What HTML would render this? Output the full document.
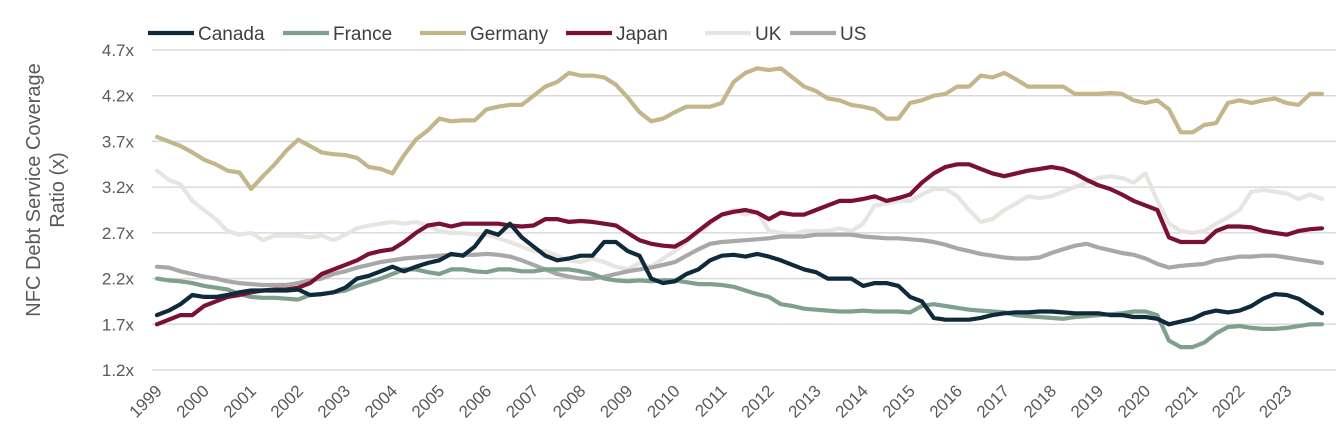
<!DOCTYPE html>
<html><head><meta charset="utf-8"><style>
html,body{margin:0;padding:0;background:#fff;width:1340px;height:447px;overflow:hidden}
svg{font-family:"Liberation Sans",sans-serif}
</style></head><body>
<svg id="chart" width="1340" height="447" viewBox="0 0 1340 447" xmlns="http://www.w3.org/2000/svg">
<g id="grid"></g>
<g id="yticks"></g>
<g id="xticks"></g>
<g id="series"></g>
<g id="legend"></g>
<text transform="translate(48,190) rotate(-90)" text-anchor="middle" font-size="20" fill="#595959"><tspan x="0" dy="-8">NFC Debt Service Coverage</tspan><tspan x="0" dy="24">Ratio (x)</tspan></text>
</svg>
<script>
const yTicks=[1.2,1.7,2.2,2.7,3.2,3.7,4.2,4.7];
const years=["1999","2000","2001","2002","2003","2004","2005","2006","2007","2008","2009","2010","2011","2012","2013","2014","2015","2016","2017","2018","2019","2020","2021","2022","2023"];
const seriesNames=["Canada","France","Germany","Japan","UK","US"];
const canada=[1.8,1.85,1.92,2.02,2.0,2.0,2.02,2.05,2.07,2.07,2.07,2.07,2.08,2.02,2.03,2.05,2.1,2.2,2.23,2.28,2.33,2.28,2.33,2.37,2.4,2.47,2.45,2.55,2.72,2.68,2.8,2.65,2.55,2.45,2.4,2.42,2.45,2.45,2.6,2.6,2.5,2.45,2.2,2.15,2.17,2.25,2.3,2.4,2.45,2.46,2.44,2.47,2.44,2.4,2.35,2.3,2.27,2.2,2.2,2.2,2.12,2.15,2.15,2.12,2.0,1.95,1.77,1.75,1.75,1.75,1.77,1.8,1.82,1.83,1.83,1.84,1.84,1.83,1.82,1.82,1.82,1.8,1.8,1.78,1.78,1.76,1.7,1.73,1.76,1.82,1.85,1.83,1.85,1.9,1.98,2.03,2.02,1.98,1.9,1.82];
const france=[2.2,2.18,2.17,2.15,2.12,2.1,2.08,2.03,2.0,1.99,1.99,1.98,1.97,2.02,2.03,2.05,2.07,2.12,2.16,2.2,2.25,2.3,2.3,2.27,2.25,2.3,2.3,2.28,2.27,2.3,2.3,2.28,2.28,2.3,2.3,2.3,2.28,2.25,2.2,2.18,2.17,2.18,2.17,2.18,2.18,2.16,2.14,2.14,2.13,2.11,2.07,2.03,2.0,1.92,1.9,1.87,1.86,1.85,1.84,1.84,1.85,1.84,1.84,1.84,1.83,1.9,1.92,1.9,1.88,1.86,1.85,1.84,1.83,1.8,1.79,1.78,1.77,1.76,1.78,1.79,1.8,1.81,1.82,1.84,1.84,1.8,1.52,1.45,1.45,1.5,1.6,1.67,1.68,1.66,1.65,1.65,1.66,1.68,1.7,1.7];
const germany=[3.75,3.7,3.65,3.58,3.5,3.45,3.38,3.36,3.18,3.32,3.45,3.6,3.72,3.65,3.58,3.56,3.55,3.52,3.42,3.4,3.35,3.55,3.72,3.82,3.95,3.92,3.93,3.93,4.05,4.08,4.1,4.1,4.2,4.3,4.35,4.45,4.42,4.42,4.4,4.32,4.18,4.02,3.92,3.95,4.02,4.08,4.08,4.08,4.12,4.35,4.45,4.5,4.48,4.5,4.4,4.3,4.25,4.17,4.15,4.1,4.08,4.05,3.95,3.95,4.12,4.15,4.2,4.22,4.3,4.3,4.42,4.4,4.45,4.38,4.3,4.3,4.3,4.3,4.22,4.22,4.22,4.23,4.22,4.15,4.12,4.15,4.05,3.8,3.8,3.88,3.9,4.12,4.15,4.12,4.15,4.17,4.12,4.1,4.22,4.22];
const japan=[1.7,1.75,1.8,1.8,1.9,1.95,2.0,2.02,2.05,2.07,2.08,2.08,2.1,2.15,2.25,2.3,2.35,2.4,2.47,2.5,2.52,2.6,2.7,2.78,2.8,2.77,2.8,2.8,2.8,2.8,2.78,2.77,2.78,2.85,2.85,2.82,2.83,2.82,2.8,2.78,2.7,2.62,2.58,2.56,2.55,2.62,2.72,2.82,2.9,2.93,2.95,2.92,2.85,2.92,2.9,2.9,2.95,3.0,3.05,3.05,3.07,3.1,3.05,3.08,3.12,3.25,3.35,3.42,3.45,3.45,3.4,3.35,3.32,3.35,3.38,3.4,3.42,3.4,3.35,3.28,3.22,3.18,3.12,3.05,3.0,2.95,2.65,2.6,2.6,2.6,2.72,2.77,2.77,2.76,2.72,2.7,2.68,2.72,2.74,2.75];
const uk=[3.38,3.28,3.23,3.05,2.95,2.85,2.72,2.68,2.7,2.62,2.67,2.67,2.67,2.65,2.67,2.62,2.68,2.75,2.78,2.8,2.82,2.8,2.82,2.78,2.72,2.7,2.7,2.68,2.68,2.64,2.6,2.55,2.5,2.5,2.45,2.4,2.38,2.42,2.38,2.33,2.3,2.37,2.33,2.42,2.5,2.6,2.7,2.8,2.9,2.95,2.9,2.93,2.72,2.7,2.68,2.72,2.72,2.72,2.75,2.72,2.8,3.0,3.02,3.05,3.05,3.12,3.18,3.18,3.1,2.95,2.82,2.85,2.95,3.02,3.1,3.08,3.1,3.15,3.2,3.25,3.3,3.32,3.3,3.25,3.35,3.05,2.8,2.72,2.7,2.72,2.8,2.87,2.95,3.15,3.17,3.15,3.13,3.07,3.12,3.07];
const us=[2.33,2.32,2.28,2.25,2.22,2.2,2.17,2.15,2.14,2.13,2.13,2.13,2.15,2.18,2.2,2.25,2.28,2.32,2.35,2.38,2.4,2.42,2.43,2.44,2.45,2.46,2.46,2.46,2.47,2.46,2.44,2.4,2.35,2.3,2.25,2.22,2.2,2.2,2.22,2.25,2.28,2.3,2.32,2.35,2.38,2.45,2.52,2.58,2.6,2.61,2.62,2.63,2.64,2.66,2.66,2.66,2.68,2.68,2.68,2.68,2.66,2.65,2.64,2.64,2.63,2.62,2.6,2.57,2.53,2.5,2.47,2.45,2.43,2.42,2.42,2.43,2.48,2.52,2.56,2.58,2.54,2.51,2.48,2.46,2.42,2.36,2.32,2.34,2.35,2.36,2.4,2.42,2.44,2.44,2.45,2.45,2.43,2.41,2.39,2.37];

const NS="http://www.w3.org/2000/svg";
const x0=157,x1=1322,yTop=50,yBot=370,vMin=1.2,vMax=4.7;
const n=canada.length;
function xQ(i){return x0+(x1-x0)*i/(n-1);}
function xYear(i){return x0+(x1-x0)*(i*4)/(n-1);}
function yV(v){return yBot-(v-vMin)/(vMax-vMin)*(yBot-yTop);}
function mk(tag,attrs,parent){const e=document.createElementNS(NS,tag);for(const k in attrs)e.setAttribute(k,attrs[k]);parent.appendChild(e);return e;}

const grid=document.getElementById('grid'),yt=document.getElementById('yticks'),xt=document.getElementById('xticks');
yTicks.forEach(v=>{
  const l=mk('line',{x1:152,x2:1336,y1:yV(v),y2:yV(v),stroke:'#d9d9d9','stroke-width':1.5},grid);
  
  
  const t=mk('text',{x:134,y:yV(v)+6,'text-anchor':'end','font-size':17,fill:'#595959'},yt);
  t.textContent=v.toFixed(1)+'x';
  
  
});
years.forEach((yr,i)=>{
  const x=xYear(i)+6,y=392;
  const t=mk('text',{x:x,y:y,'text-anchor':'end','font-size':17,fill:'#595959',transform:`rotate(-45 ${x} ${y})`},xt);
  t.textContent=yr;
  
  
});

const colors=["#0f2a3a","#7fa08c","#c3b68a","#7a1038","#e8e4e0","#a8a8aa"];
const data=[canada,france,germany,japan,uk,us];
const order=[4,5,2,1,3,0];
const sg=document.getElementById('series');
order.forEach(k=>{
  const d=data[k].map((v,i)=>(i?'L':'M')+xQ(i).toFixed(1)+','+yV(v).toFixed(1)).join('');
  const p=mk('path',{d:d,fill:'none',stroke:colors[k],'stroke-width':4.2,'stroke-linejoin':'round','stroke-linecap':'round'},sg);
  
  
});
const lg=document.getElementById('legend');
const lx=[148,283,420,566,705,790];
seriesNames.forEach((nm,k)=>{
  const g=mk('g',{},lg);
  
  
  mk('line',{x1:lx[k],x2:lx[k]+46,y1:33,y2:33,stroke:colors[k],'stroke-width':4.2},g);
  const t=mk('text',{x:lx[k]+50,y:40,'font-size':19,fill:'#404040'},g);
  t.textContent=nm;
});
</script>
</body></html>
